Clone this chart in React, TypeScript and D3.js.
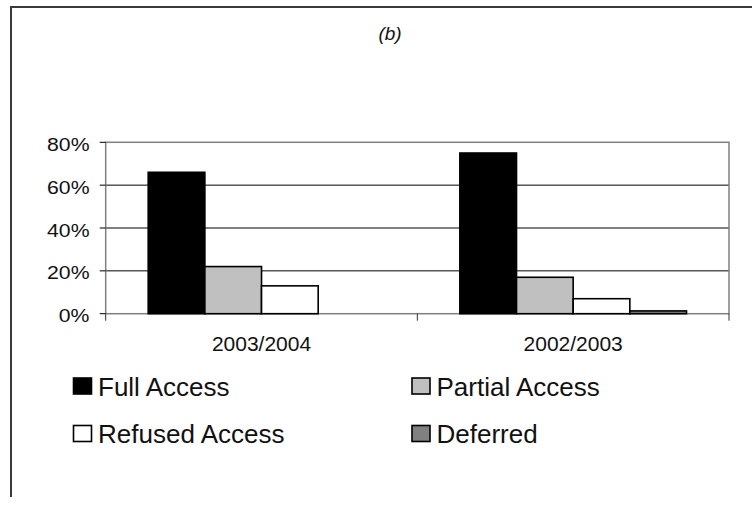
import React, { useEffect, useRef } from 'react';
import * as d3 from 'd3';

// chart data
const CATEGORIES = ['2003/2004', '2002/2003'];
const SERIES = ['Full Access', 'Partial Access', 'Refused Access', 'Deferred'];
const FULL_ACCESS = [66, 75];
const PARTIAL_ACCESS = [22, 17];
const REFUSED_ACCESS = [13, 7];
const DEFERRED = [0, 1.3];
const Y_TICKS = [0, 20, 40, 60, 80];
const COLORS = ['#000000', '#c0c0c0', '#ffffff', '#808080'];

const App: React.FC = () => {
  const svgRef = useRef<SVGSVGElement>(null);

  useEffect(() => {
    if (!svgRef.current) return;

    const width = 752;
    const height = 507;
    const font = '"Liberation Sans", Arial, sans-serif';

    const svg = d3.select(svgRef.current)
      .attr('width', width)
      .attr('height', height)
      .html('');

    // outer frame (only top + left visible)
    svg.append('path')
      .attr('d', `M11,497 L11,7 L${width},7`)
      .attr('fill', 'none')
      .attr('stroke', '#3a3a3a')
      .attr('stroke-width', 2);

    svg.append('text')
      .attr('x', 390)
      .attr('y', 40)
      .attr('text-anchor', 'middle')
      .attr('font-family', font)
      .attr('font-style', 'italic')
      .attr('font-size', 19)
      .attr('fill', '#111')
      .text('(b)');

    const left = 105.7, right = 729, top = 142.3, bottom = 313.7;

    const x0 = d3.scaleBand<string>().domain(CATEGORIES).range([left, right]);
    const x1 = d3.scaleBand<string>().domain(SERIES)
      .range([0, x0.bandwidth()])
      .paddingInner(0)
      .paddingOuter(0.75);
    const y = d3.scaleLinear().domain([0, 80]).range([bottom, top]);

    const values = [FULL_ACCESS, PARTIAL_ACCESS, REFUSED_ACCESS, DEFERRED];

    // gridlines
    svg.selectAll('.grid')
      .data(Y_TICKS.filter(t => t > 0 && t < 80))
      .enter()
      .append('line')
      .attr('x1', left).attr('x2', right)
      .attr('y1', d => y(d)).attr('y2', d => y(d))
      .attr('stroke', '#000')
      .attr('stroke-width', 1);

    // plot border (gray)
    svg.append('rect')
      .attr('x', left).attr('y', top)
      .attr('width', right - left).attr('height', bottom - top)
      .attr('fill', 'none')
      .attr('stroke', '#808080')
      .attr('stroke-width', 1.5);

    // y ticks + labels (labels are a bit wide in the original, so stretch x)
    Y_TICKS.forEach(t => {
      svg.append('line')
        .attr('x1', left - 6).attr('x2', left)
        .attr('y1', y(t)).attr('y2', y(t))
        .attr('stroke', '#000');
      svg.append('text')
        .attr('transform', `translate(89.5,${y(t) + 8.5}) scale(1.18,1)`)
        .attr('text-anchor', 'end')
        .attr('font-family', font)
        .attr('font-size', 18)
        .attr('fill', '#111')
        .text(`${t}%`);
    });

    // category ticks
    [left, left + x0.step(), right].forEach(xv => {
      svg.append('line')
        .attr('x1', xv).attr('x2', xv)
        .attr('y1', bottom).attr('y2', bottom + 7)
        .attr('stroke', '#333');
    });

    // bars
    CATEGORIES.forEach((cat, ci) => {
      SERIES.forEach((s, si) => {
        const v = values[si][ci];
        if (!v) return;
        svg.append('rect')
          .attr('x', (x0(cat) ?? 0) + (x1(s) ?? 0))
          .attr('y', y(v))
          .attr('width', x1.bandwidth())
          .attr('height', bottom - y(v))
          .attr('fill', COLORS[si])
          .attr('stroke', '#000')
          .attr('stroke-width', 1.6);
      });
      svg.append('text')
        .attr('x', (x0(cat) ?? 0) + x0.bandwidth() / 2)
        .attr('y', 351)
        .attr('text-anchor', 'middle')
        .attr('font-family', font)
        .attr('font-size', 21)
        .attr('fill', '#111')
        .text(cat);
    });

    // legend 2x2
    const legendX = [73.5, 412];
    const legendY = [378, 425.5];
    SERIES.forEach((s, i) => {
      const lx = legendX[i % 2];
      const ly = legendY[Math.floor(i / 2)];
      svg.append('rect')
        .attr('x', lx).attr('y', ly)
        .attr('width', 18).attr('height', 16)
        .attr('fill', COLORS[i])
        .attr('stroke', '#000')
        .attr('stroke-width', 1.6);
      svg.append('text')
        .attr('x', lx + 24.5)
        .attr('y', ly + 17.5)
        .attr('font-family', font)
        .attr('font-size', 26)
        .attr('fill', '#111')
        .text(s);
    });
  }, []);

  return (
    <svg ref={svgRef} style={{ position: 'absolute', left: 0, top: 0, background: '#fff' }}></svg>
  );
};

export default App;
